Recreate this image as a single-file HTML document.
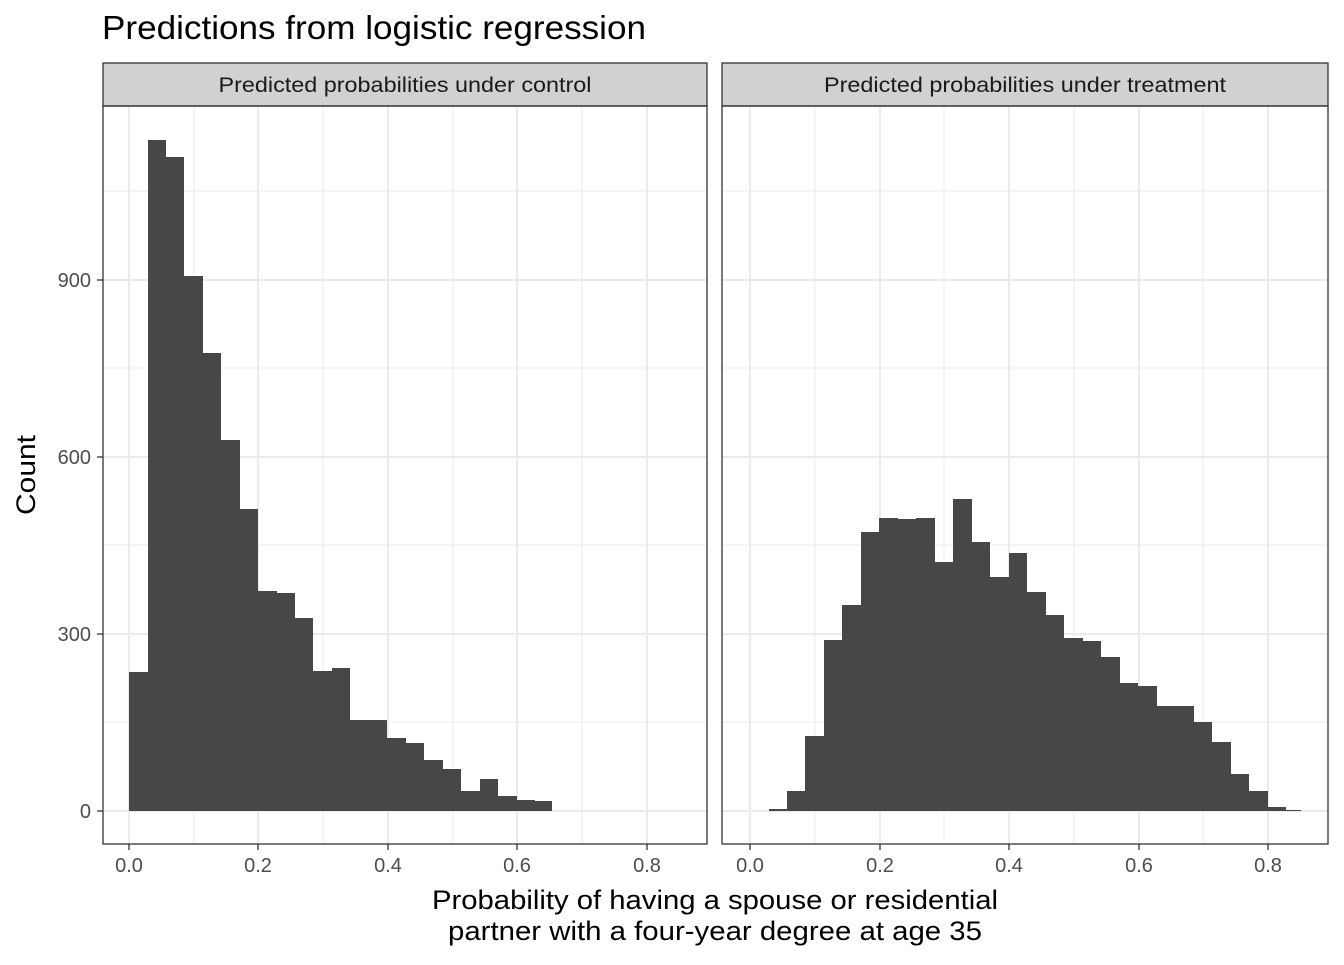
<!DOCTYPE html>
<html><head><style>body{margin:0;background:#fff}</style></head><body>
<svg width="1344" height="960" xmlns="http://www.w3.org/2000/svg" font-family="Liberation Sans, sans-serif">
<rect width="1344" height="960" fill="#fff"/>
<text x="102" y="39" font-size="33" fill="#000" textLength="544" lengthAdjust="spacingAndGlyphs">Predictions from logistic regression</text>
<g id="grid" stroke="#ebebeb">
<g stroke-width="1">
<line x1="103" x2="707" y1="722" y2="722"/><line x1="103" x2="707" y1="545" y2="545"/><line x1="103" x2="707" y1="368" y2="368"/><line x1="103" x2="707" y1="191" y2="191"/>
<line x1="194" x2="194" y1="106" y2="844"/><line x1="323" x2="323" y1="106" y2="844"/><line x1="453" x2="453" y1="106" y2="844"/><line x1="582" x2="582" y1="106" y2="844"/>
<line x1="722" x2="1328" y1="722" y2="722"/><line x1="722" x2="1328" y1="545" y2="545"/><line x1="722" x2="1328" y1="368" y2="368"/><line x1="722" x2="1328" y1="191" y2="191"/>
<line x1="815" x2="815" y1="106" y2="844"/><line x1="944" x2="944" y1="106" y2="844"/><line x1="1074" x2="1074" y1="106" y2="844"/><line x1="1203" x2="1203" y1="106" y2="844"/>
</g>
<g stroke-width="2">
<line x1="103" x2="707" y1="811" y2="811"/><line x1="103" x2="707" y1="634" y2="634"/><line x1="103" x2="707" y1="457" y2="457"/><line x1="103" x2="707" y1="280" y2="280"/>
<line x1="129" x2="129" y1="106" y2="844"/><line x1="258" x2="258" y1="106" y2="844"/><line x1="388" x2="388" y1="106" y2="844"/><line x1="517" x2="517" y1="106" y2="844"/><line x1="647" x2="647" y1="106" y2="844"/>
<line x1="722" x2="1328" y1="811" y2="811"/><line x1="722" x2="1328" y1="634" y2="634"/><line x1="722" x2="1328" y1="457" y2="457"/><line x1="722" x2="1328" y1="280" y2="280"/>
<line x1="750" x2="750" y1="106" y2="844"/><line x1="880" x2="880" y1="106" y2="844"/><line x1="1009" x2="1009" y1="106" y2="844"/><line x1="1139" x2="1139" y1="106" y2="844"/><line x1="1268" x2="1268" y1="106" y2="844"/>
</g></g>
<path fill="#474747" d="M129 811 V672 H148 V140 H166 V157 H184 V276 H203 V353 H221 V440 H240 V509 H258 V591 H277 V593 H295 V618 H313 V671 H332 V668 H350 V720 H387 V738 H406 V743 H424 V760 H443 V769 H461 V791 H480 V779 H498 V796 H517 V800 H535 V801 H552 V811 Z"/>
<path fill="#474747" d="M769 811 V809 H787 V791 H805 V736 H824 V640 H842 V605 H861 V532 H879 V518 H898 V519 H916 V518 H935 V562 H953 V499 H972 V542 H990 V577 H1009 V553 H1027 V592 H1046 V615 H1064 V638 H1083 V641 H1101 V657 H1120 V683 H1138 V686 H1157 V706 H1194 V722 H1212 V742 H1231 V774 H1249 V791 H1268 V807 H1286 V810 H1301 V811 Z"/>
<rect x="103" y="63" width="604" height="43" fill="#d1d1d1" stroke="#333" stroke-width="1.3"/>
<rect x="722" y="63" width="606" height="43" fill="#d1d1d1" stroke="#333" stroke-width="1.3"/>
<text x="405" y="92" font-size="21" text-anchor="middle" fill="#1a1a1a" textLength="373" lengthAdjust="spacingAndGlyphs">Predicted probabilities under control</text>
<text x="1025" y="92" font-size="21" text-anchor="middle" fill="#1a1a1a" textLength="402" lengthAdjust="spacingAndGlyphs">Predicted probabilities under treatment</text>
<rect x="103" y="106" width="604" height="738" fill="none" stroke="#333" stroke-width="1.3"/>
<rect x="722" y="106" width="606" height="738" fill="none" stroke="#333" stroke-width="1.3"/>
<g stroke="#333" stroke-width="1.3">
<line x1="97" x2="103" y1="811" y2="811"/><line x1="97" x2="103" y1="634" y2="634"/><line x1="97" x2="103" y1="457" y2="457"/><line x1="97" x2="103" y1="280" y2="280"/>
<line x1="129" x2="129" y1="844" y2="850"/><line x1="258" x2="258" y1="844" y2="850"/><line x1="388" x2="388" y1="844" y2="850"/><line x1="517" x2="517" y1="844" y2="850"/><line x1="647" x2="647" y1="844" y2="850"/>
<line x1="750" x2="750" y1="844" y2="850"/><line x1="880" x2="880" y1="844" y2="850"/><line x1="1009" x2="1009" y1="844" y2="850"/><line x1="1139" x2="1139" y1="844" y2="850"/><line x1="1268" x2="1268" y1="844" y2="850"/>
</g>
<g font-size="20" fill="#4d4d4d" text-anchor="end">
<text x="91" y="818">0</text><text x="91" y="641">300</text><text x="91" y="464">600</text><text x="91" y="287">900</text>
</g>
<g font-size="20" fill="#4d4d4d" text-anchor="middle">
<text x="129" y="872">0.0</text><text x="258" y="872">0.2</text><text x="388" y="872">0.4</text><text x="517" y="872">0.6</text><text x="647" y="872">0.8</text>
<text x="750" y="872">0.0</text><text x="880" y="872">0.2</text><text x="1009" y="872">0.4</text><text x="1139" y="872">0.6</text><text x="1268" y="872">0.8</text>
</g>
<text x="715" y="909" font-size="27" text-anchor="middle" textLength="566" lengthAdjust="spacingAndGlyphs">Probability of having a spouse or residential</text>
<text x="715" y="940" font-size="27" text-anchor="middle" textLength="534" lengthAdjust="spacingAndGlyphs">partner with a four-year degree at age 35</text>
<text transform="translate(35,475) rotate(-90)" font-size="27" text-anchor="middle" textLength="80" lengthAdjust="spacingAndGlyphs">Count</text>
</svg>
</body></html>
